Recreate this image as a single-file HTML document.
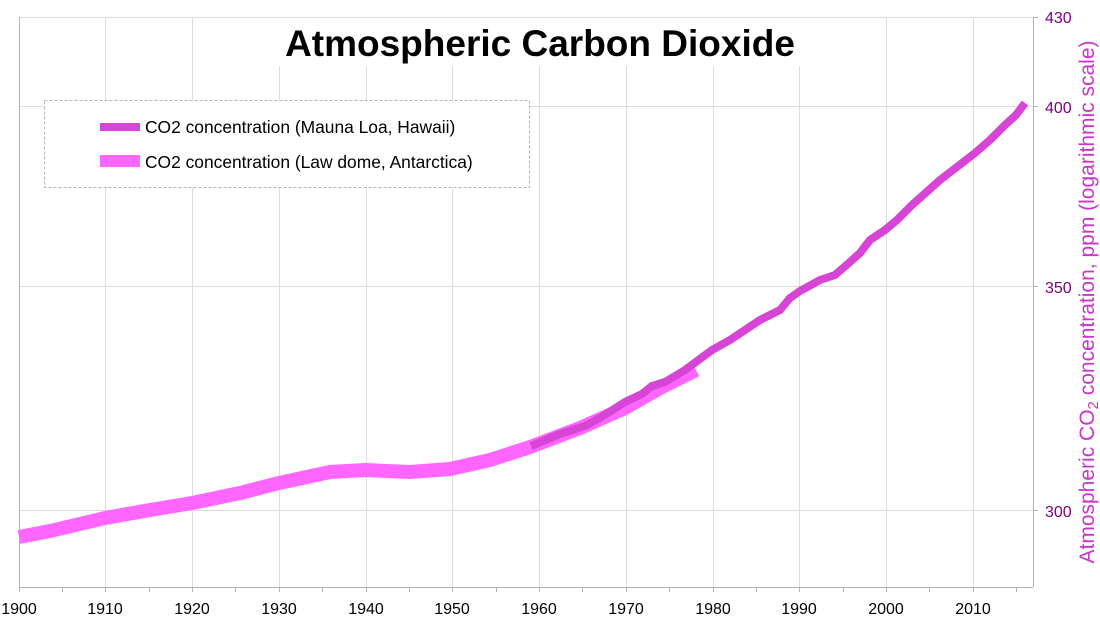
<!DOCTYPE html>
<html><head><meta charset="utf-8"><style>
html,body{margin:0;padding:0;background:#fff}
svg{display:block}
</style></head><body>
<svg width="1100" height="624" viewBox="0 0 1100 624" xmlns="http://www.w3.org/2000/svg" font-family="Liberation Sans, sans-serif">
<rect width="1100" height="624" fill="#fff"/>
<g stroke="#dcdcdc" stroke-width="1">
<line x1="105.5" y1="17" x2="105.5" y2="587"/>
<line x1="192.5" y1="17" x2="192.5" y2="587"/>
<line x1="279.5" y1="17" x2="279.5" y2="587"/>
<line x1="366.5" y1="17" x2="366.5" y2="587"/>
<line x1="452.5" y1="17" x2="452.5" y2="587"/>
<line x1="539.5" y1="17" x2="539.5" y2="587"/>
<line x1="626.5" y1="17" x2="626.5" y2="587"/>
<line x1="713.5" y1="17" x2="713.5" y2="587"/>
<line x1="799.5" y1="17" x2="799.5" y2="587"/>
<line x1="886.5" y1="17" x2="886.5" y2="587"/>
<line x1="973.5" y1="17" x2="973.5" y2="587"/>
<line x1="19" y1="17.5" x2="1033" y2="17.5"/>
<line x1="19" y1="106.5" x2="1033" y2="106.5"/>
<line x1="19" y1="286.5" x2="1033" y2="286.5"/>
<line x1="19" y1="510.5" x2="1033" y2="510.5"/>
</g>
<g stroke="#b3b3b3" stroke-width="1">
<line x1="19.5" y1="17" x2="19.5" y2="587"/>
<line x1="1033.5" y1="17" x2="1033.5" y2="587"/>
<line x1="19" y1="587.5" x2="1033" y2="587.5"/>
<line x1="19.5" y1="587" x2="19.5" y2="592"/>
<line x1="62.5" y1="587" x2="62.5" y2="592"/>
<line x1="105.5" y1="587" x2="105.5" y2="592"/>
<line x1="149.5" y1="587" x2="149.5" y2="592"/>
<line x1="192.5" y1="587" x2="192.5" y2="592"/>
<line x1="235.5" y1="587" x2="235.5" y2="592"/>
<line x1="279.5" y1="587" x2="279.5" y2="592"/>
<line x1="322.5" y1="587" x2="322.5" y2="592"/>
<line x1="366.5" y1="587" x2="366.5" y2="592"/>
<line x1="409.5" y1="587" x2="409.5" y2="592"/>
<line x1="452.5" y1="587" x2="452.5" y2="592"/>
<line x1="496.5" y1="587" x2="496.5" y2="592"/>
<line x1="539.5" y1="587" x2="539.5" y2="592"/>
<line x1="582.5" y1="587" x2="582.5" y2="592"/>
<line x1="626.5" y1="587" x2="626.5" y2="592"/>
<line x1="669.5" y1="587" x2="669.5" y2="592"/>
<line x1="713.5" y1="587" x2="713.5" y2="592"/>
<line x1="756.5" y1="587" x2="756.5" y2="592"/>
<line x1="799.5" y1="587" x2="799.5" y2="592"/>
<line x1="843.5" y1="587" x2="843.5" y2="592"/>
<line x1="886.5" y1="587" x2="886.5" y2="592"/>
<line x1="929.5" y1="587" x2="929.5" y2="592"/>
<line x1="973.5" y1="587" x2="973.5" y2="592"/>
<line x1="1016.5" y1="587" x2="1016.5" y2="592"/>
<line x1="1033" y1="17.5" x2="1038" y2="17.5"/>
<line x1="1033" y1="106.5" x2="1038" y2="106.5"/>
<line x1="1033" y1="286.5" x2="1038" y2="286.5"/>
<line x1="1033" y1="510.5" x2="1038" y2="510.5"/>
</g>
<rect x="270" y="18" width="540" height="48" fill="#fff"/>
<text x="540" y="56" text-anchor="middle" font-size="37" font-weight="bold" fill="#000">Atmospheric Carbon Dioxide</text>
<polyline fill="none" stroke="#ff66ff" stroke-width="14" stroke-linejoin="round" points="19,537 50,531 105,518 150,510 192,503 240,493 279,483 330,472 365,470 410,472 450,469 490,460 530,447 580,428 625,408 660,388 696,370"/>
<polyline fill="none" stroke="#d645d6" stroke-width="8" stroke-linejoin="round" points="531,446 560,434 585,426 600,418 625,402 642,394 652,386 665,382 685,370 712,350 730,340 760,320 780,310 790,298 800,291 820,280 835,275 850,262 860,253 870,240 885,230 897,220 912,205 940,180 975,153 990,140 1005,125 1016,115 1025,103"/>
<rect x="44.5" y="100.5" width="485" height="87" fill="#fff" stroke="#b3b3b3" stroke-dasharray="3,2"/>
<rect x="100" y="123" width="40" height="8" fill="#d645d6"/>
<rect x="100" y="155" width="40" height="12" fill="#ff66ff"/>
<g font-size="17.4" fill="#000">
<text x="145" y="133">CO2 concentration (Mauna Loa, Hawaii)</text>
<text x="145" y="168">CO2 concentration (Law dome, Antarctica)</text>
</g>
<g font-size="16" fill="#000" text-anchor="middle">
<text x="19" y="614">1900</text><text x="105" y="614">1910</text><text x="192" y="614">1920</text>
<text x="279" y="614">1930</text><text x="366" y="614">1940</text><text x="452" y="614">1950</text>
<text x="539" y="614">1960</text><text x="626" y="614">1970</text><text x="713" y="614">1980</text>
<text x="799" y="614">1990</text><text x="886" y="614">2000</text><text x="973" y="614">2010</text>
</g>
<g font-size="16" fill="#800080">
<text x="1045" y="23">430</text><text x="1045" y="113">400</text>
<text x="1045" y="293">350</text><text x="1045" y="517">300</text>
</g>
<text transform="translate(1094,302) rotate(-90)" text-anchor="middle" font-size="21" fill="#cc33cc">Atmospheric CO<tspan font-size="15" dy="4">2</tspan><tspan dy="-4"> concentration, ppm (logarithmic scale)</tspan></text>
</svg>
</body></html>
